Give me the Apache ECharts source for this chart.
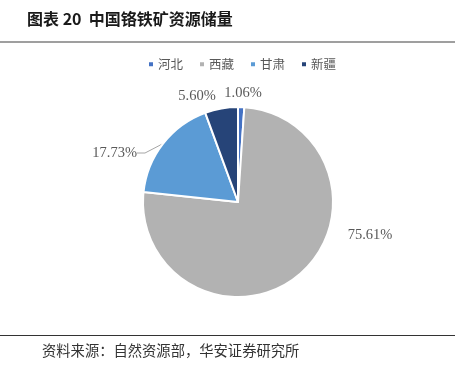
<!DOCTYPE html>
<html><head><meta charset="utf-8">
<script src="https://cdn.jsdelivr.net/npm/echarts@6/dist/echarts.min.js"></script>
<style>html,body{margin:0;padding:0;background:#fff}#c{width:455px;height:365px}</style>
</head><body><div id="c"></div>
<script>
const categories = ['河北', '西藏', '甘肃', '新疆'];
const values = [1.06, 75.61, 17.73, 5.60];
const colors = ['#4472C4', '#B2B2B2', '#5B9BD5', '#264478'];
const titleText = '图表 20  中国铬铁矿资源储量';
const sourceText = '资料来源：自然资源部，华安证券研究所';

const labelPos = [
  {x: 243, y: 93, align: 'center'},
  {x: 370, y: 235, align: 'center'},
  {x: 137, y: 153, align: 'right'},
  {x: 197, y: 96, align: 'center'}
];

const chart = echarts.init(document.getElementById('c'), null, {renderer: 'canvas'});
chart.setOption({
  animation: false,
  backgroundColor: '#fff',
  color: colors,
  legend: {
    data: categories,
    left: 142, top: 53,
    icon: 'rect', itemWidth: 6, itemHeight: 6, itemGap: 15,
    textStyle: {fontSize: 12.5, color: '#595959', fontFamily: 'Noto Sans CJK SC', padding: [0,0,0,-1]}
  },
  series: [{
    type: 'pie',
    center: [238, 202],
    radius: [0, 95],
    startAngle: 90,
    clockwise: true,
    avoidLabelOverlap: false,
    itemStyle: {borderColor: '#fff', borderWidth: 2},
    label: {
      show: true,
      formatter: p => p.value.toFixed(2) + '%',
      fontFamily: 'Liberation Serif', fontSize: 14.5, color: '#595959'
    },
    labelLine: {show: true, length: 8, length2: 8, smooth: false, lineStyle: {color: '#A6A6A6', width: 1}},
    labelLayout: function (params) {
      const p = labelPos[params.dataIndex];
      return {x: p.x, y: p.y, align: p.align, verticalAlign: 'middle'};
    },
    data: categories.map((n, i) => ({
      name: n, value: values[i],
      labelLine: {show: i === 2}
    }))
  }],
  graphic: [
    {type: 'text', left: 27, top: 11, style: {text: titleText, font: 'bold 16px "Noto Sans CJK SC"', fill: '#1a1a1a'}},
    {type: 'line', shape: {x1: 0, y1: 42, x2: 455, y2: 42}, style: {stroke: '#7f7f7f', lineWidth: 1.5}},
    {type: 'line', shape: {x1: 0, y1: 335.5, x2: 455, y2: 335.5}, style: {stroke: '#333', lineWidth: 1}},
    {type: 'text', left: 42, top: 343, style: {text: sourceText, font: '14.3px "Noto Sans CJK SC"', fill: '#333'}}
  ]
});
</script></body></html>
